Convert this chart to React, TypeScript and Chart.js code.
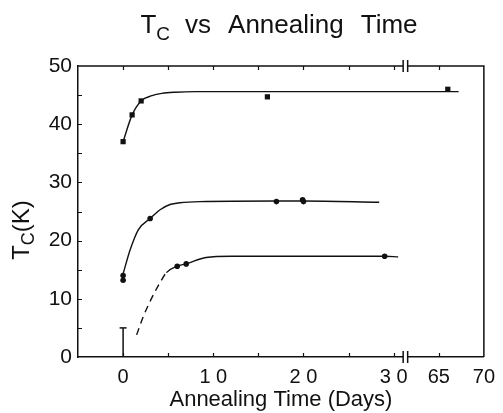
import React, { useEffect, useRef } from 'react';
import { Chart, registerables } from 'chart.js';

Chart.register(...registerables);

// Days beyond the axis break are shifted left by this many days
const breakShift = 30;
const breakFrom = 31.05;
const breakTo = 31.55;

// Upper series (squares) and its fitted curve
const squareDays = [0, 1, 2, 16, 66];
const squareTc = [37.0, 41.6, 44.0, 44.7, 46.0];
const fit1Days = [0, 1, 2, 3.2, 4.3, 5.8, 8, 20, 67.2];
const fit1Tc = [37.0, 41.6, 44.0, 44.9, 45.3, 45.5, 45.6, 45.6, 45.6];

// Middle series (dots) and its fitted curve
const midDays = [0, 0, 3, 17, 19.9, 20];
const midTc = [14.0, 13.2, 23.8, 26.7, 27.0, 26.7];
const fit2Days = [0, 0.8, 1.7, 3, 4.1, 5.2, 6.3, 8.5, 17, 20, 28.4];
const fit2Tc = [14.3, 18.5, 21.9, 23.8, 25.3, 26.2, 26.5, 26.7, 26.8, 26.8, 26.6];

// Lower series (dots) and its fitted curve (dashed at the start)
const lowDays = [6, 7, 29];
const lowTc = [15.6, 16.0, 17.3];
const fit3Days = [1.5, 2.2, 3.1, 4.1, 4.8, 6, 7, 9.2, 12, 29, 30.5];
const fit3Tc = [3.8, 6.8, 9.9, 12.8, 14.5, 15.6, 16.0, 17.1, 17.3, 17.3, 17.2];
const dashedUntil = 4.8;

// Upper-limit bar at t = 0
const errDays = [0, 0];
const errTc = [0, 5];

// Axes
const xMin = -5;
const xMax = 40;
const xTickValues = [0, 10, 20, 30, 35, 40];
const xTickLabels = ['0', '1 0', '2 0', '3 0', '65', '70'];
const yMin = 0;
const yMax = 50;

const ink = '#111';
const FONT = '"Liberation Sans", Arial, Helvetica, sans-serif';

const mapX = (d: number) => (d > 50 ? d - breakShift : d);
const toXY = (xs: number[], ys: number[]) => xs.map((x, i) => ({ x: mapX(x), y: ys[i] }));

export default function App() {
  const ref = useRef<HTMLCanvasElement>(null);

  useEffect(() => {
    const canvas = ref.current!;

    const frame = {
      id: 'frame',
      afterDraw(chart: any) {
        const { ctx, chartArea: a, scales } = chart;
        const xs = scales.x;
        const ys = scales.y;
        ctx.save();
        ctx.strokeStyle = ink;
        ctx.lineWidth = 1.5;
        ctx.beginPath();
        ctx.moveTo(a.left, a.top);
        ctx.lineTo(a.right, a.top);
        ctx.lineTo(a.right, a.bottom);
        ctx.stroke();

        // inward tick marks
        ctx.lineWidth = 1.2;
        ctx.beginPath();
        for (let v = xMin + 5; v < xMax; v += 5) {
          const px = Math.round(xs.getPixelForValue(v)) + 0.5;
          ctx.moveTo(px, a.bottom);
          ctx.lineTo(px, a.bottom - 4);
          ctx.moveTo(px, a.top);
          ctx.lineTo(px, a.top + 4);
        }
        for (let v = yMin + 5; v < yMax; v += 5) {
          const py = Math.round(ys.getPixelForValue(v)) + 0.5;
          ctx.moveTo(a.left, py);
          ctx.lineTo(a.left + 4, py);
        }
        ctx.stroke();

        // axis breaks
        const b1 = xs.getPixelForValue(breakFrom);
        const b2 = xs.getPixelForValue(breakTo);
        ctx.fillStyle = '#fff';
        for (const yy of [a.top, a.bottom]) {
          ctx.fillRect(b1, yy - 2, b2 - b1, 4);
        }
        ctx.lineWidth = 1.5;
        ctx.beginPath();
        for (const yy of [a.top, a.bottom]) {
          ctx.moveTo(b1, yy - 6);
          ctx.lineTo(b1, yy + 6);
          ctx.moveTo(b2, yy - 6);
          ctx.lineTo(b2, yy + 6);
        }
        ctx.stroke();

        // Title with subscript
        ctx.fillStyle = ink;
        ctx.textBaseline = 'alphabetic';
        ctx.textAlign = 'left';
        const big = `26px ${FONT}`;
        const sub = `19px ${FONT}`;
        const parts = [
          { t: 'T', f: big, dy: 0, gap: 0 },
          { t: 'C', f: sub, dy: 7, gap: 15 },
          { t: 'vs', f: big, dy: 0, gap: 17 },
          { t: 'Annealing', f: big, dy: 0, gap: 17 },
          { t: 'Time', f: big, dy: 0, gap: 0 },
        ];
        let total = 0;
        for (const p of parts) {
          ctx.font = p.f;
          total += ctx.measureText(p.t).width + p.gap;
        }
        let x = 279 - total / 2;
        for (const p of parts) {
          ctx.font = p.f;
          ctx.fillText(p.t, x, 33 + p.dy);
          x += ctx.measureText(p.t).width + p.gap;
        }

        // Y axis title with subscript, rotated
        ctx.translate(29, 230);
        ctx.rotate(-Math.PI / 2);
        const yb = `24px ${FONT}`;
        const ysb = `18px ${FONT}`;
        const yparts = [
          { t: 'T', f: yb, dy: 0 },
          { t: 'C', f: ysb, dy: 5 },
          { t: '(K)', f: yb, dy: 0 },
        ];
        let yt = 0;
        for (const p of yparts) {
          ctx.font = p.f;
          yt += ctx.measureText(p.t).width;
        }
        let yx = -yt / 2;
        for (const p of yparts) {
          ctx.font = p.f;
          ctx.fillText(p.t, yx, p.dy);
          yx += ctx.measureText(p.t).width;
        }
        ctx.restore();
      },
    };

    const lineBase = {
      type: 'line' as const,
      borderColor: ink,
      borderWidth: 1.4,
      pointRadius: 0,
      fill: false,
      cubicInterpolationMode: 'monotone' as const,
    };
    const pointBase = {
      type: 'scatter' as const,
      showLine: false,
      backgroundColor: ink,
      borderColor: ink,
      borderWidth: 0,
    };

    const chart = new Chart(canvas, {
      type: 'scatter',
      data: {
        datasets: [
          { ...lineBase, label: 'fit A', data: toXY(fit1Days, fit1Tc) },
          { ...pointBase, label: 'A', data: toXY(squareDays, squareTc), pointStyle: 'rect', pointRadius: 3.7 },
          { ...lineBase, label: 'fit B', data: toXY(fit2Days, fit2Tc) },
          { ...pointBase, label: 'B', data: toXY(midDays, midTc), pointStyle: 'circle', pointRadius: 2.8 },
          {
            ...lineBase,
            label: 'fit C',
            data: toXY(fit3Days, fit3Tc),
            segment: {
              borderDash: (c: any) => (c.p1.parsed.x <= dashedUntil + 0.01 ? [7, 5] : undefined),
            },
          },
          { ...pointBase, label: 'C', data: toXY(lowDays, lowTc), pointStyle: 'circle', pointRadius: 2.8 },
          {
            type: 'line' as const,
            label: 'limit',
            data: toXY(errDays, errTc),
            borderColor: ink,
            borderWidth: 1.5,
            pointStyle: 'line',
            pointRadius: [0, 3.5],
            pointBorderWidth: 1.5,
            pointBorderColor: ink,
          },
        ],
      } as any,
      options: {
        animation: false,
        responsive: false,
        maintainAspectRatio: false,
        layout: { padding: { left: 0, right: 19, top: 66, bottom: 0 } },
        plugins: {
          legend: { display: false },
          title: { display: false },
          tooltip: { enabled: false },
        },
        scales: {
          x: {
            type: 'linear',
            position: 'bottom',
            min: xMin,
            max: xMax,
            afterFit: (s: any) => {
              s.height = 56;
            },
            afterBuildTicks: (s: any) => {
              const t = [];
              for (let v = xMin; v <= xMax; v += 5) t.push({ value: v });
              s.ticks = t;
            },
            grid: { display: false, drawTicks: false },
            border: { display: true, color: ink, width: 1.5 },
            ticks: {
              autoSkip: false,
              maxRotation: 0,
              padding: 8,
              color: ink,
              font: { family: FONT, size: 20 },
              callback: (v: any) => {
                const i = xTickValues.indexOf(Number(v));
                return i >= 0 ? xTickLabels[i] : '';
              },
            },
            title: {
              display: true,
              text: 'Annealing Time (Days)',
              color: ink,
              font: { family: FONT, size: 22 },
              padding: { top: 0, bottom: 0 },
            },
          },
          y: {
            type: 'linear',
            position: 'left',
            min: yMin,
            max: yMax,
            afterFit: (s: any) => {
              s.width = 78;
            },
            grid: { display: false, drawTicks: false },
            border: { display: true, color: ink, width: 1.5 },
            ticks: {
              stepSize: 10,
              padding: 6,
              color: ink,
              font: { family: FONT, size: 21 },
            },
          },
        },
      } as any,
      plugins: [frame],
    });

    return () => chart.destroy();
  }, []);

  return (
    <div style={{ position: 'fixed', left: 0, top: 0, width: 503, height: 413, background: '#fff' }}>
      <canvas ref={ref} width={503} height={413} style={{ width: 503, height: 413, display: 'block' }} />
    </div>
  );
}
